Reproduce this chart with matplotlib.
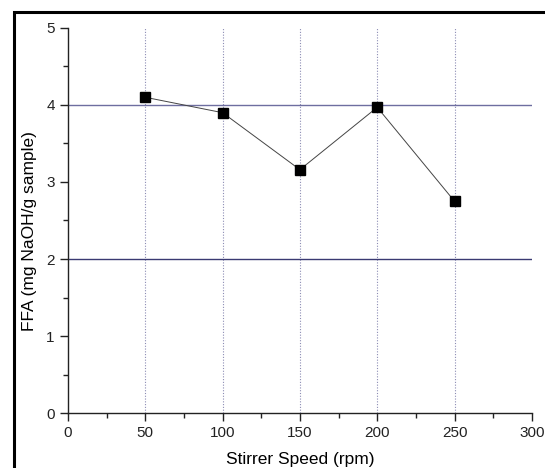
import numpy as np
import matplotlib.pyplot as plt
from matplotlib.patches import Rectangle

plt.rcParams['font.family'] = ['Liberation Sans', 'DejaVu Sans']

speed = [50, 100, 150, 200, 250]          # stirrer speed, rpm
ffa = [4.10, 3.90, 3.16, 3.97, 2.75]      # mg NaOH/g sample
grid_x = [50, 100, 150, 200, 250]
ref_y = [2, 4]
ref_colors = ['#3a3a72', '#6e6ea0']

fig = plt.figure(figsize=(5.45, 4.68), dpi=100)
ax = fig.add_axes([0.1248, 0.1175, 0.851, 0.8227])

# dotted vertical guides
for gx in grid_x:
    ax.plot([gx, gx], [0, 5], ls=(0, (1, 1.5)), color='#8c8cb4', lw=0.8, zorder=1)
# horizontal reference lines
for ry, c in zip(ref_y, ref_colors):
    ax.plot([0, 300], [ry, ry], color=c, lw=1.0, zorder=1)

ax.plot(speed, ffa, color='#444444', lw=0.7, zorder=2)
ax.plot(speed, ffa, 's', color='black', ms=7, zorder=3)

ax.set_xlim(0, 300)
ax.set_ylim(0, 5)
ax.set_xticks(np.arange(0, 301, 50))
ax.set_xticks(np.arange(25, 300, 50), minor=True)
ax.set_yticks(np.arange(0, 6, 1))
ax.set_yticks(np.arange(0.5, 5, 1), minor=True)

for s in ['top', 'right']:
    ax.spines[s].set_visible(False)
for s in ['left', 'bottom']:
    ax.spines[s].set_linewidth(1.0)
    ax.spines[s].set_color('#222222')

ax.tick_params(which='major', direction='out', length=6, width=1.0, labelsize=11, colors='#222222')
ax.tick_params(which='minor', direction='out', length=3.5, width=1.0, colors='#222222')

ax.set_xlabel('Stirrer Speed (rpm)', fontsize=12.5)
ax.set_ylabel('FFA (mg NaOH/g sample)', fontsize=12.5)
ax.xaxis.set_label_coords(0.5, -0.10)
ax.yaxis.set_label_coords(-0.067, 0.473)

# outer frame of the image
fig.patches.append(Rectangle((14 / 545, -0.2), 1.2, (468 - 12) / 468 + 0.2,
                             transform=fig.transFigure, fill=False,
                             edgecolor='black', lw=2.2, clip_on=False))

fig.savefig('out.png', dpi=100)
